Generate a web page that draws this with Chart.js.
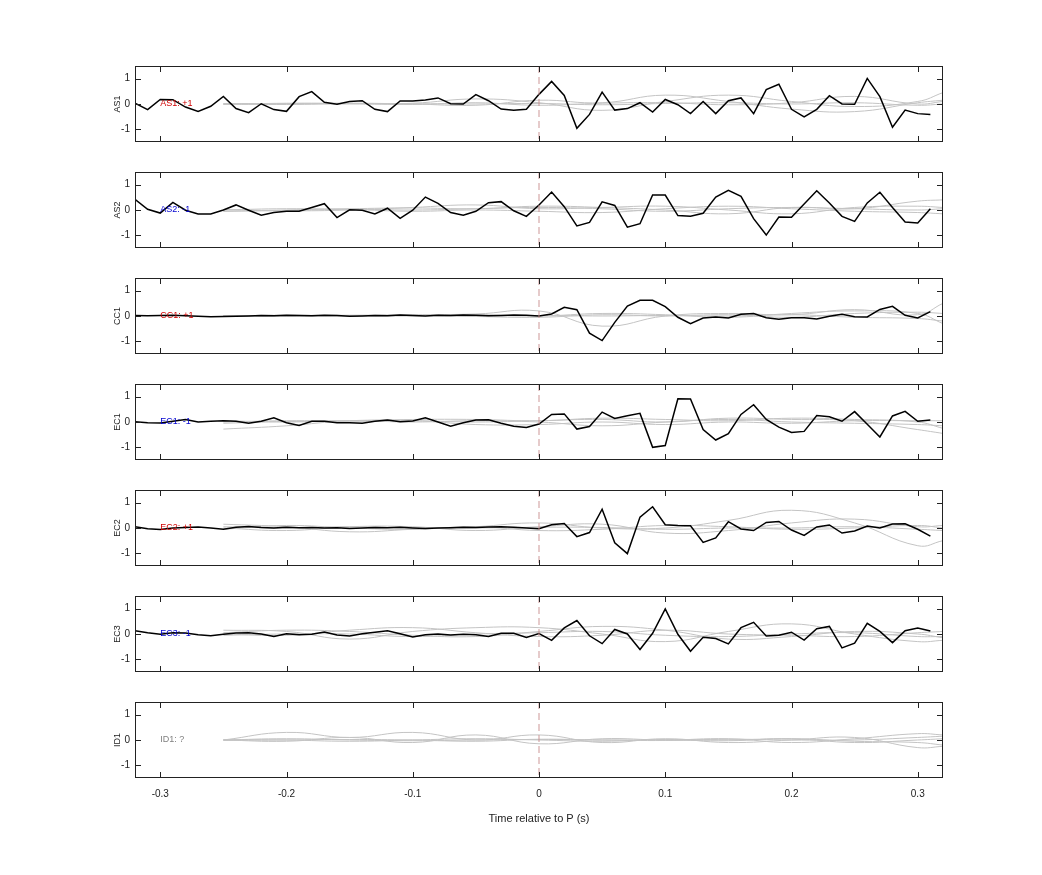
<!DOCTYPE html>
<html><head><meta charset="utf-8">
<script src="https://cdn.jsdelivr.net/npm/chart.js@4.4.0/dist/chart.umd.min.js"></script>
<style>html,body{margin:0;padding:0;background:#fff;width:1042px;height:875px;overflow:hidden}canvas{position:absolute;left:0}</style>
</head><body>
<script>
const times = [-0.32,-0.31,-0.30,-0.29,-0.28,-0.27,-0.26,-0.25,-0.24,-0.23,-0.22,-0.21,-0.20,-0.19,-0.18,-0.17,-0.16,-0.15,-0.14,-0.13,-0.12,-0.11,-0.10,-0.09,-0.08,-0.07,-0.06,-0.05,-0.04,-0.03,-0.02,-0.01,0.00,0.01,0.02,0.03,0.04,0.05,0.06,0.07,0.08,0.09,0.10,0.11,0.12,0.13,0.14,0.15,0.16,0.17,0.18,0.19,0.20,0.21,0.22,0.23,0.24,0.25,0.26,0.27,0.28,0.29,0.30,0.31];
const channels = ['AS1','AS2','CC1','EC1','EC2','EC3','ID1'];
const polarity = ['AS1: +1','AS2: -1','CC1: +1','EC1: -1','EC2: +1','EC3: -1','ID1: ?'];
const labelColors = ['#d00000','#0000d0','#d00000','#0000d0','#d00000','#0000d0','#808080'];
const xTicks = [-0.3,-0.2,-0.1,0,0.1,0.2,0.3];
const yTicks = [-1,0,1];

const AS1 = [0.03,-0.22,0.18,0.17,-0.12,-0.29,-0.09,0.30,-0.18,-0.34,0.01,-0.22,-0.29,0.29,0.49,0.07,-0.01,0.10,0.13,-0.21,-0.30,0.12,0.12,0.16,0.24,0.01,0.00,0.37,0.13,-0.20,-0.25,-0.21,0.38,
 0.89,0.34,-0.96,-0.41,0.47,-0.24,-0.18,0.05,-0.32,0.18,-0.03,-0.38,0.10,-0.38,0.13,0.24,-0.38,0.57,0.78,-0.21,-0.51,-0.21,0.33,0.00,-0.01,1.01,0.29,-0.92,-0.24,-0.38,-0.41];
const AS2 = [0.42,0.03,-0.12,0.30,-0.01,-0.16,-0.16,0.00,0.20,-0.01,-0.21,-0.10,-0.05,-0.05,0.10,0.25,-0.30,0.01,-0.01,-0.16,0.07,-0.33,-0.01,0.51,0.26,-0.10,-0.21,-0.05,0.29,0.33,-0.03,-0.25,0.20,
 0.71,0.13,-0.63,-0.49,0.32,0.18,-0.68,-0.54,0.59,0.59,-0.22,-0.25,-0.13,0.51,0.78,0.54,-0.34,-0.99,-0.28,-0.29,0.24,0.76,0.28,-0.25,-0.45,0.28,0.70,0.10,-0.47,-0.51,0.05];
const CC1 = [0.02,0.01,0.02,0.03,0.01,-0.01,-0.03,-0.02,-0.01,0.00,0.02,0.01,0.03,0.02,0.01,0.03,0.02,-0.01,0.00,0.02,0.01,0.04,0.02,0.00,0.03,0.02,0.04,0.03,0.01,0.02,0.04,0.03,0.00,
 0.08,0.34,0.25,-0.68,-0.97,-0.25,0.39,0.62,0.62,0.37,-0.05,-0.30,-0.08,-0.04,-0.08,0.07,0.10,-0.07,-0.13,-0.07,-0.07,-0.12,-0.01,0.07,-0.03,-0.04,0.26,0.38,0.03,-0.08,0.17];
const EC1 = [0.01,-0.03,-0.04,0.03,0.10,0.00,0.03,0.05,0.03,-0.05,0.03,0.17,-0.03,-0.14,0.03,0.03,-0.03,-0.03,-0.05,0.03,0.08,0.01,0.04,0.17,0.00,-0.17,-0.03,0.08,0.09,-0.05,-0.17,-0.22,-0.08,
 0.30,0.32,-0.28,-0.18,0.39,0.14,0.25,0.34,-1.00,-0.93,0.92,0.91,-0.30,-0.71,-0.46,0.30,0.68,0.10,-0.20,-0.41,-0.37,0.26,0.21,0.03,0.41,-0.09,-0.59,0.24,0.42,0.03,0.08];
const EC2 = [0.05,-0.03,-0.06,0.00,0.02,0.04,0.00,-0.05,0.03,0.06,0.02,0.00,0.03,0.01,0.02,0.00,0.01,-0.02,0.00,0.02,0.01,0.03,0.00,-0.02,0.00,0.01,0.03,0.02,0.04,0.05,0.03,0.00,-0.03,
 0.13,0.18,-0.34,-0.18,0.74,-0.58,-1.01,0.43,0.84,0.13,0.10,0.09,-0.57,-0.39,0.25,-0.04,-0.10,0.22,0.26,-0.08,-0.29,0.04,0.12,-0.20,-0.12,0.08,0.00,0.16,0.17,-0.05,-0.32];
const EC3 = [0.13,0.05,-0.01,0.05,0.04,-0.03,-0.07,-0.01,0.04,0.05,0.00,-0.10,0.01,-0.03,-0.01,0.08,-0.04,-0.08,0.01,0.07,0.13,0.01,-0.12,-0.03,0.00,-0.04,-0.01,-0.03,-0.10,0.03,0.03,-0.14,0.02,
 -0.25,0.24,0.53,-0.07,-0.38,0.18,0.00,-0.61,0.03,0.99,-0.01,-0.68,-0.13,-0.18,-0.39,0.25,0.46,-0.08,-0.05,0.07,-0.24,0.21,0.30,-0.55,-0.36,0.42,0.10,-0.34,0.13,0.24,0.12];
const blackSeries = [AS1,AS2,CC1,EC1,EC2,EC3,null];

const greyX = [-0.25,-0.20,-0.15,-0.10,-0.05,0.00,0.05,0.10,0.15,0.20,0.25,0.30,0.32];
const greyAS1 = [[0.00,0.02,0.00,0.03,0.20,0.05,-0.25,0.10,0.35,0.10,-0.10,0.10,0.45],[0.02,0.00,0.03,0.00,-0.05,0.15,0.05,0.35,0.10,-0.20,-0.30,0.05,0.15],[-0.02,0.03,0.02,-0.02,0.05,-0.05,0.03,0.05,-0.03,0.05,0.30,0.00,0.10],[0.00,-0.02,0.02,0.01,0.00,0.02,-0.03,0.02,0.05,0.00,0.05,-0.05,0.00]];
const greyAS2 = [[-0.05,0.00,0.05,0.08,0.05,0.15,0.10,0.00,-0.15,0.10,0.05,0.35,0.40],[0.02,-0.03,0.00,0.10,0.20,0.05,0.10,0.15,0.00,-0.15,0.10,0.15,0.10],[0.00,0.05,0.02,-0.05,0.00,-0.05,-0.10,0.05,0.15,0.05,-0.05,-0.10,-0.15],[-0.05,-0.02,0.03,0.00,0.05,0.10,0.05,-0.05,0.05,0.10,0.05,0.00,0.05]];
const greyCC1 = [[0.00,0.02,0.03,0.05,0.08,0.20,-0.40,0.00,0.10,0.05,0.25,0.05,0.50],[0.02,0.00,0.02,0.00,0.05,0.00,0.10,0.05,-0.05,0.10,0.20,0.10,-0.30],[0.00,0.03,0.00,0.02,-0.02,-0.05,0.05,0.00,0.05,-0.05,0.10,0.15,0.10],[0.01,-0.01,0.01,0.03,0.00,0.02,0.00,0.02,0.00,0.05,-0.05,-0.10,-0.20]];
const greyEC1 = [[-0.28,-0.15,0.05,0.05,0.00,0.05,0.10,0.00,0.15,0.10,0.05,-0.30,-0.45],[0.00,0.05,0.05,0.10,0.10,0.05,0.15,0.10,0.05,0.15,0.10,0.00,-0.25],[0.05,0.00,0.05,0.00,0.05,0.00,-0.15,0.00,0.10,0.00,-0.05,-0.10,-0.15],[-0.05,0.02,0.00,0.05,-0.10,-0.10,0.00,-0.10,0.00,-0.05,0.05,0.05,0.05]];
const greyEC2 = [[0.15,0.05,-0.15,-0.05,0.05,0.20,0.00,0.00,0.30,0.70,0.20,-0.70,-0.50],[0.00,-0.10,0.05,0.05,-0.10,0.05,0.15,-0.20,-0.10,0.20,0.35,0.05,0.10],[-0.05,0.10,0.00,-0.05,0.05,-0.10,-0.05,0.10,0.05,-0.05,0.00,0.10,0.00],[0.05,0.00,0.05,0.00,0.00,0.03,0.02,-0.05,0.00,0.00,0.05,-0.05,-0.10]];
const greyEC3 = [[0.15,0.10,-0.20,0.10,0.25,0.25,0.00,-0.30,0.10,0.40,0.00,-0.30,-0.25],[0.05,0.15,0.10,-0.05,-0.10,0.10,0.30,0.15,-0.20,-0.10,0.10,0.00,-0.15],[0.00,-0.05,0.15,0.25,0.05,-0.10,-0.05,0.15,0.00,-0.05,-0.10,0.05,0.10],[-0.05,0.00,0.00,-0.10,0.00,0.05,0.10,-0.05,-0.10,0.00,0.05,-0.10,-0.10]];
const greyID1 = [[0.00,0.30,0.10,0.30,0.00,0.20,-0.10,0.05,-0.10,0.00,0.10,-0.30,-0.25],[0.00,-0.05,0.10,-0.10,0.20,-0.15,0.05,0.00,0.05,-0.10,0.05,0.25,0.20],[0.02,0.00,-0.05,0.00,0.05,0.00,-0.05,0.02,0.00,0.05,-0.05,-0.10,-0.20],[0.00,0.05,0.00,-0.03,0.00,0.02,0.00,-0.02,0.03,0.00,0.00,0.10,0.15],[-0.02,0.00,0.02,0.00,-0.05,0.03,0.00,0.00,-0.03,0.05,-0.10,0.00,0.05]];
const greySeries = [greyAS1,greyAS2,greyCC1,greyEC1,greyEC2,greyEC3,greyID1];

const FONT = "'Liberation Sans', Arial, sans-serif";
const decor = {
  id:'decor',
  afterDraw(chart, args, opt){
    const {ctx, chartArea:a, scales:{x,y}} = chart;
    ctx.save();
    const x0 = x.getPixelForValue(0);
    ctx.strokeStyle='rgba(200,140,140,0.9)'; ctx.lineWidth=1; ctx.setLineDash([7,4]);
    ctx.beginPath(); ctx.moveTo(x0,a.top); ctx.lineTo(x0,a.bottom); ctx.stroke();
    ctx.setLineDash([]);
    ctx.strokeStyle='#222'; ctx.lineWidth=1;
    ctx.strokeRect(a.left+0.5,a.top+0.5,a.right-a.left-1,a.bottom-a.top-1);
    ctx.beginPath();
    xTicks.forEach(v=>{const p=Math.round(x.getPixelForValue(v))+0.5; ctx.moveTo(p,a.top); ctx.lineTo(p,a.top+6); ctx.moveTo(p,a.bottom); ctx.lineTo(p,a.bottom-6);});
    yTicks.forEach(v=>{const p=Math.round(y.getPixelForValue(v))+0.5; ctx.moveTo(a.left,p); ctx.lineTo(a.left+6,p); ctx.moveTo(a.right,p); ctx.lineTo(a.right-6,p);});
    ctx.stroke();
    ctx.fillStyle=opt.color; ctx.font='9px '+FONT; ctx.textBaseline='middle'; ctx.textAlign='left';
    ctx.fillText(opt.text, x.getPixelForValue(-0.3), y.getPixelForValue(0));
    ctx.restore();
  }
};

channels.forEach((ch,i)=>{
  const last = i===channels.length-1;
  const plotTop = 66+106*i;
  const cv = document.createElement('canvas');
  const h = last ? 152 : 98;
  cv.width = 1042; cv.height = h;
  cv.style.top = (plotTop-11)+'px';
  cv.style.width='1042px'; cv.style.height=h+'px';
  document.body.appendChild(cv);
  const datasets = [];
  if(blackSeries[i]) datasets.push({data:times.map((t,k)=>({x:t,y:blackSeries[i][k]})),borderColor:'#000',borderWidth:1.5,pointRadius:0,tension:0,order:0});
  greySeries[i].forEach(g=>datasets.push({data:greyX.map((t,k)=>({x:t,y:g[k]})),borderColor:'#c4c4c4',borderWidth:1,pointRadius:0,tension:0.45,order:1}));
  new Chart(cv,{
    type:'line',
    data:{datasets},
    options:{
      responsive:false, animation:false, devicePixelRatio:1,
      layout:{padding:{left:108,right:99,top:10,bottom:last?13:10}},
      plugins:{legend:{display:false},tooltip:{enabled:false},decor:{text:polarity[i],color:labelColors[i]}},
      scales:{
        x:{type:'linear',min:-0.32,max:0.32,display:last,
           afterBuildTicks(s){s.ticks=xTicks.map(v=>({value:v}));},
           afterFit(s){s.height=last?52:0;},
           grid:{display:false,drawTicks:false},border:{display:false},
           ticks:{padding:10,color:'#222',font:{size:10,family:FONT},callback:v=>String(v)},
           title:{display:true,text:'Time relative to P (s)',color:'#222',font:{size:11,family:FONT},padding:{top:4}}},
        y:{min:-1.5,max:1.5,
           afterBuildTicks(s){s.ticks=yTicks.map(v=>({value:v}));},
           afterFit(s){s.width=27;},
           grid:{display:false,drawTicks:false},border:{display:false},
           ticks:{padding:5,color:'#222',font:{size:10,family:FONT}},
           title:{display:true,text:ch,color:'#222',font:{size:9,family:FONT},padding:{bottom:2}}}
      }
    },
    plugins:[decor]
  });
});
</script>
</body></html>
